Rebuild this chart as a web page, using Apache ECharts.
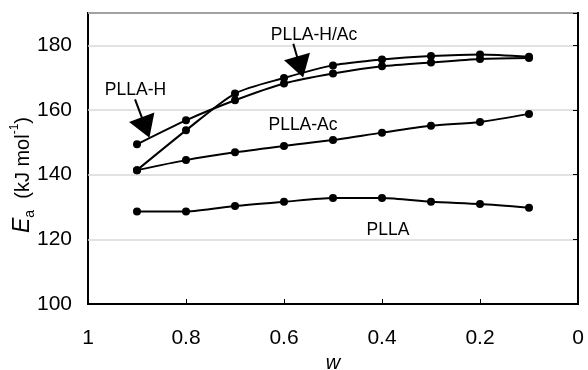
<!DOCTYPE html>
<html>
<head>
<meta charset="utf-8">
<script src="https://cdn.jsdelivr.net/npm/echarts@6/dist/echarts.min.js"></script>
<style>
html,body{margin:0;padding:0;background:#fff;}
#chart{width:588px;height:370px;}
</style>
</head>
<body>
<div id="chart"></div>
<script>
// w values (x-axis, reversed from 1 to 0)
const wValues = [0.9, 0.8, 0.7, 0.6, 0.5, 0.4, 0.3, 0.2, 0.1];
// Ea values (kJ/mol)
const pllaH   = [149.4, 156.8, 163.0, 168.2, 171.3, 173.5, 174.7, 175.8, 176.1];
const pllaHAc = [141.4, 153.7, 165.1, 169.9, 173.8, 175.6, 176.7, 177.2, 176.5];
const pllaAc  = [141.4, 144.5, 146.9, 148.9, 150.7, 153.0, 155.1, 156.3, 158.8];
const plla    = [128.6, 128.6, 130.3, 131.6, 132.8, 132.8, 131.6, 130.9, 129.8];
const seriesNames = ['PLLA-H', 'PLLA-H/Ac', 'PLLA-Ac', 'PLLA'];
const yTicks = [100, 120, 140, 160, 180];
const xTicks = [1, 0.8, 0.6, 0.4, 0.2, 0];

const FONT = 'Liberation Sans, Arial, sans-serif';
const chart = echarts.init(document.getElementById('chart'));

function pairs(vals){ return wValues.map((w,i)=>[w, vals[i]]); }

function mkSeries(name, vals){
  return {
    name: name, type: 'line', data: pairs(vals),
    smooth: 0.25, symbol: 'circle', symbolSize: 8,
    itemStyle: {color: '#000'},
    lineStyle: {color: '#000', width: 2},
    animation: false, z: 3
  };
}

const series = [
  mkSeries(seriesNames[0], pllaH),
  mkSeries(seriesNames[1], pllaHAc),
  mkSeries(seriesNames[2], pllaAc),
  mkSeries(seriesNames[3], plla),
  {
    type: 'line', data: [], silent: true, animation: false,
    markLine: {
      silent: true, animation: false,
      symbol: ['none', 'triangle'], symbolSize: [27, 22],
      label: {show: false},
      lineStyle: {color: '#000', width: 2, type: 'solid'},
      data: [
        [{coord: [0.904, 163.3]}, {coord: [0.8825, 154.6]}],
        [{coord: [0.581, 180.5]}, {coord: [0.5672, 173.3]}]
      ]
    }
  }
];

const option = {
  animation: false,
  backgroundColor: '#fff',
  grid: {left: 88, right: 10, top: 13, bottom: 66, show: true, borderColor: '#000', borderWidth: 2,
         containLabel: false, outerBoundsMode: 'none'},
  xAxis: {
    type: 'value', min: 0, max: 1, interval: 0.2, inverse: true,
    name: 'w', nameLocation: 'middle', nameGap: 48,
    nameTextStyle: {fontFamily: FONT, fontSize: 20, fontStyle: 'italic', color: '#000'},
    axisLine: {show: true, lineStyle: {color: '#000', width: 2}},
    axisTick: {show: true, inside: true, length: 5, lineStyle: {color: '#000', width: 1}},
    axisLabel: {
      fontFamily: FONT, fontSize: 21, color: '#000', margin: 24,
      formatter: v => {
        const m = xTicks.find(t => Math.abs(t - v) < 1e-6);
        if (m === undefined) return '';
        return (m === 1 || m === 0) ? String(m) : m.toFixed(1);
      }
    },
    splitLine: {show: false}
  },
  yAxis: [{
    type: 'value', min: 100, max: 190, interval: 20,
    axisLine: {show: true, lineStyle: {color: '#000', width: 2}},
    axisTick: {show: false},
    axisLabel: {
      fontFamily: FONT, fontSize: 21, color: '#000', margin: 16,
      formatter: v => yTicks.indexOf(v) >= 0 ? String(v) : ''
    },
    splitLine: {show: true, lineStyle: {color: '#d9d9d9', width: 1.5}}
  }, {
    type: 'value', position: 'right', min: 100, max: 190, interval: 20,
    axisLine: {show: true, lineStyle: {color: '#000', width: 2}},
    axisTick: {show: true, inside: true, length: 5, lineStyle: {color: '#000', width: 1}},
    axisLabel: {show: false},
    splitLine: {show: false}
  }],
  graphic: [
    {type: 'text', x: 135.5, y: 90.5, z: 10,
     style: {text: seriesNames[0], font: '17.5px ' + FONT, fill: '#000', align: 'center', verticalAlign: 'middle'}},
    {type: 'text', x: 314, y: 35, z: 10,
     style: {text: seriesNames[1], font: '17.5px ' + FONT, fill: '#000', align: 'center', verticalAlign: 'middle'}},
    {type: 'text', x: 303, y: 125, z: 10,
     style: {text: seriesNames[2], font: '17.5px ' + FONT, fill: '#000', align: 'center', verticalAlign: 'middle'}},
    {type: 'text', x: 388, y: 230.5, z: 10,
     style: {text: seriesNames[3], font: '17.5px ' + FONT, fill: '#000', align: 'center', verticalAlign: 'middle'}},
    {type: 'text', x: 23, y: 175, rotation: Math.PI / 2, z: 10,
     style: {
       text: '{e|E}{sub|a}{n|  (kJ mol}{sup|-1}{n|)}',
       align: 'center', verticalAlign: 'middle',
       rich: {
         e: {fontFamily: FONT, fontSize: 23, fontStyle: 'italic', fill: '#000', lineHeight: 28, verticalAlign: 'middle'},
         n: {fontFamily: FONT, fontSize: 20, fill: '#000', lineHeight: 28, verticalAlign: 'middle'},
         sub: {fontFamily: FONT, fontSize: 14, fill: '#000', lineHeight: 28, verticalAlign: 'bottom'},
         sup: {fontFamily: FONT, fontSize: 12, fill: '#000', lineHeight: 28, verticalAlign: 'top'}
       }
     }}
  ],
  series: series
};
chart.setOption(option);
</script>
</body>
</html>
